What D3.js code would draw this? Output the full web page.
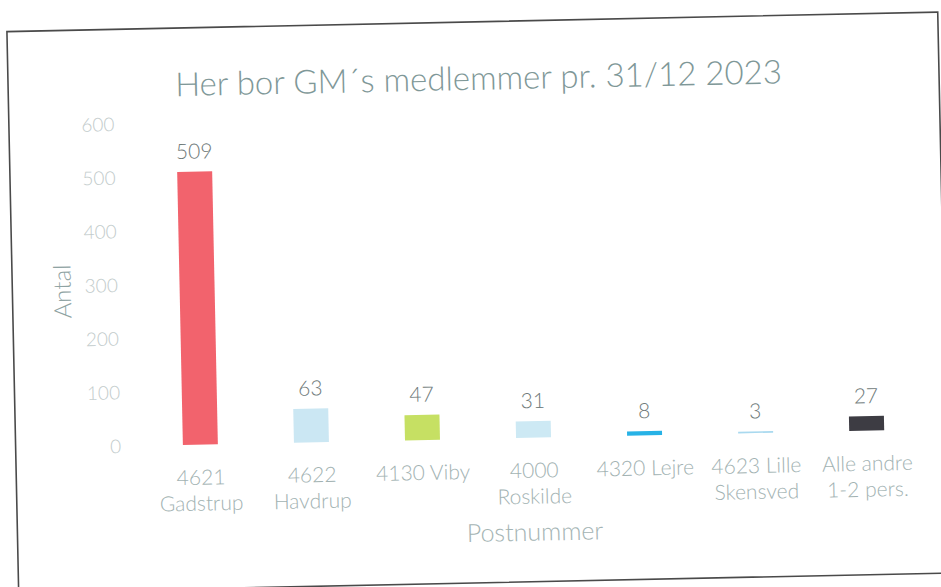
<!DOCTYPE html>
<html>
<head>
<meta charset="utf-8">
<script src="https://cdn.jsdelivr.net/npm/d3@7"></script>
<style>
  html, body { margin: 0; padding: 0; background: #ffffff; }
  svg { display: block; }
  text { font-family: Lato, "Open Sans", sans-serif; }
</style>
</head>
<body>
<svg id="chart" width="941" height="587"></svg>
<script>
const title = "Her bor GM´s medlemmer pr. 31/12 2023";
const categories = [
  ["4621", "Gadstrup"],
  ["4622", "Havdrup"],
  ["4130 Viby"],
  ["4000", "Roskilde"],
  ["4320 Lejre"],
  ["4623 Lille", "Skensved"],
  ["Alle andre", "1-2 pers."]
];
const values = [509, 63, 47, 31, 8, 3, 27];
const barColors = ["#f2636d", "#cbe7f3", "#c6e063", "#cde9f4", "#27b2e6", "#a9d9ef", "#3d3c43"];
const yTicks = [0, 100, 200, 300, 400, 500, 600];
const yTitle = "Antal";
const xTitle = "Postnummer";

const svg = d3.select("#chart");
const g = svg.append("g").attr("transform", "rotate(-1.2, 470, 293)");

// frame
g.append("rect")
  .attr("x", 12.5).attr("y", 22).attr("width", 931).attr("height", 561)
  .attr("fill", "none").attr("stroke", "#4a4a4a").attr("stroke-width", 1.6);

const keys = categories.map((c, i) => i);
const x = d3.scaleBand().domain(keys).range([142, 919]).paddingInner(0.685).paddingOuter(0.34);
const y = d3.scaleLinear().domain([0, 600]).range([439, 117]);

// y axis
const yAxis = d3.axisLeft(y).tickValues(yTicks).tickSize(0).tickPadding(0);
const ya = g.append("g").attr("transform", "translate(118,0)").call(yAxis);
ya.select(".domain").remove();
ya.selectAll("text")
  .attr("fill", "#c2cbcb").attr("font-size", 19).attr("font-family", "Lato, sans-serif").attr("font-weight", 300);

// x axis (labels only)
const xAxis = d3.axisBottom(x).tickSize(0).tickFormat(() => "");
const xa = g.append("g").attr("transform", "translate(0,439)").call(xAxis);
xa.select(".domain").remove();
xa.selectAll(".tick").each(function(d) {
  const t = d3.select(this).select("text").text(null)
    .attr("fill", "#a2b2b2").attr("font-size", 21).attr("font-family", "Lato, sans-serif").attr("font-weight", 300)
    .attr("y", 0).attr("dy", null);
  categories[d].forEach((line, i) => {
    t.append("tspan").attr("x", 0).attr("y", 40 + i * 26).text(line);
  });
});

// bars
g.selectAll("rect.bar").data(values).join("rect")
  .attr("class", "bar")
  .attr("x", (d, i) => x(i))
  .attr("width", x.bandwidth())
  .attr("y", d => y(d))
  .attr("height", d => y(0) - y(d))
  .attr("fill", (d, i) => barColors[i]);

// value labels
g.selectAll("text.val").data(values).join("text")
  .attr("class", "val")
  .attr("x", (d, i) => x(i) + x.bandwidth() / 2)
  .attr("y", d => y(d) - 13)
  .attr("text-anchor", "middle")
  .attr("fill", "#6f7a7a").attr("font-size", 21).attr("font-weight", 300)
  .text(d => d);

// title
g.append("text")
  .attr("x", 483).attr("y", 90)
  .attr("text-anchor", "middle")
  .attr("fill", "#7f9898").attr("font-size", 33).attr("font-weight", 300)
  .text(title);

// axis titles
g.append("text")
  .attr("transform", "translate(71,283) rotate(-90)")
  .attr("text-anchor", "middle")
  .attr("fill", "#8fa3a3").attr("font-size", 24).attr("font-weight", 300)
  .text(yTitle);

g.append("text")
  .attr("x", 530).attr("y", 542)
  .attr("text-anchor", "middle")
  .attr("fill", "#a4b4b4").attr("font-size", 25).attr("font-weight", 300)
  .text(xTitle);
</script>
</body>
</html>
